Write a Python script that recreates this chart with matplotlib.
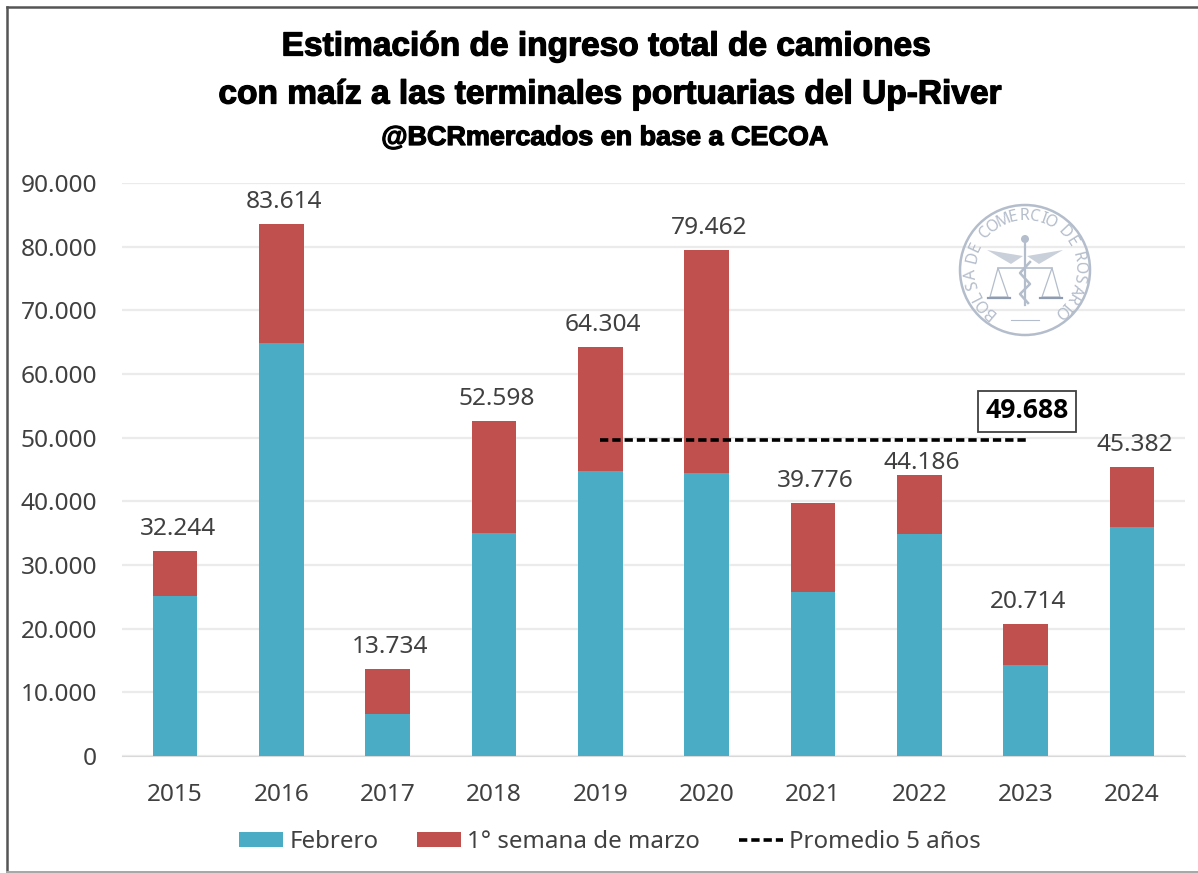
import numpy as np
import matplotlib
matplotlib.use("Agg")
import matplotlib.pyplot as plt
import matplotlib.patheffects as pe
from matplotlib.lines import Line2D
from matplotlib.patches import Circle, Polygon

years = ["2015","2016","2017","2018","2019","2020","2021","2022","2023","2024"]
febrero = [25200,64900,6600,35000,44800,44500,25800,34800,14300,36000]
marzo = [7044,18714,7134,17598,19504,34962,13976,9386,6414,9382]
totales = ["32.244","83.614","13.734","52.598","64.304","79.462","39.776","44.186","20.714","45.382"]
promedio = [49688,49688,49688,49688,49688]
promedio_years = [4,5,6,7,8]
yticks = [0,10000,20000,30000,40000,50000,60000,70000,80000,90000]
ylabels = ["0","10.000","20.000","30.000","40.000","50.000","60.000","70.000","80.000","90.000"]
title1 = "Estimación de ingreso total de camiones"
title2 = "con maíz a las terminales portuarias del Up-River"
title3 = "@BCRmercados en base a CECOA"
seal = "BOLSA DE COMERCIO DE ROSARIO"

W, H = 1198, 873
BLUE, RED, TXT, GRID, SEAL = "#4BACC6", "#C0504D", "#404040", "#EBEBEB", "#B4BDCB"
FS = 17.6
fig = plt.figure(figsize=(W/100, H/100), dpi=100)
fig.patch.set_facecolor("white")
tr = fig.transFigure
fig.add_artist(Line2D([7/W, 7/W], [1-872/H, 1-7/H], transform=tr, color="#555555", lw=1.8))
fig.add_artist(Line2D([7/W, 1], [1-7/H, 1-7/H], transform=tr, color="#555555", lw=1.8))
fig.add_artist(Line2D([7/W, 1], [1-871.5/H, 1-871.5/H], transform=tr, color="#A6A6A6", lw=1.4))

L, R, T, B = 122, 1185, 183, 756
ax = fig.add_axes([L/W, 1-B/H, (R-L)/W, (B-T)/H])
ax.set_xlim(-0.5, 9.5)
ax.set_ylim(0, 90000)
x = np.arange(len(years))
b1 = ax.bar(x, febrero, width=0.42, color=BLUE, label="Febrero", zorder=3)
b2 = ax.bar(x, marzo, width=0.42, bottom=febrero, color=RED, label="1° semana de marzo", zorder=3)
ln, = ax.plot(promedio_years, promedio, color="black", ls=(0,(2.3,1.1)), lw=2.6, label="Promedio 5 años", zorder=4)
tot = np.array(febrero)+np.array(marzo)
for xi, t, s in zip(x, tot, totales):
    off = 0 if s == "44.186" else 7
    ax.annotate(s, (xi, t), xytext=(2, off), textcoords="offset points", ha="center", va="bottom",
                fontsize=FS, color=TXT, family="Noto Sans")
ax.text(8.015, 54150, "49.688", ha="center", va="center", fontsize=19.2, fontweight="bold", color="black",
        family="Open Sans", zorder=5,
        bbox=dict(boxstyle="square,pad=0.28", fc="white", ec="#404040", lw=1.3))
for s in ax.spines.values():
    s.set_visible(False)
ax.spines["bottom"].set_visible(True)
ax.spines["bottom"].set_color("#D9D9D9")
ax.set_yticks(yticks, ylabels, fontsize=FS, color=TXT, family="Noto Sans")
ax.set_xticks(x, years, fontsize=FS, color=TXT, family="Noto Sans")
ax.tick_params(length=0)
ax.tick_params(axis="y", pad=18)
ax.tick_params(axis="x", pad=19.5)
ax.grid(axis="y", color=GRID, lw=1.6, zorder=0)
ax.set_axisbelow(True)

fig.legend([b1, b2, ln], ["Febrero", "1° semana de marzo", "Promedio 5 años"], loc="center",
           bbox_to_anchor=(610/W, 1-842/H), ncol=3, frameon=False,
           prop=dict(family="Noto Sans", size=17.3), labelcolor=TXT, handlelength=1.85,
           handleheight=0.55, columnspacing=1.6, handletextpad=0.25)

tf = ["Liberation Sans"]
st = [pe.withStroke(linewidth=0.9, foreground="black")]
fig.text(606/W, 1-47/H, title1, ha="center", va="center", fontsize=24.1, fontweight="bold", family=tf, color="black", path_effects=st)
fig.text(610/W, 1-95/H, title2, ha="center", va="center", fontsize=24.1, fontweight="bold", family=tf, color="black", path_effects=st)
fig.text(604/W, 1-138/H, title3, ha="center", va="center", fontsize=19.4, fontweight="bold", family=tf, color="black", path_effects=st)

# seal, drawn in pixel coordinates
sx = fig.add_axes([0, 0, 1, 1], facecolor="none")
sx.set_xlim(0, W); sx.set_ylim(H, 0); sx.axis("off")
cx, cy = 1025, 270
sx.add_patch(Circle((cx, cy), 65, fill=False, ec=SEAL, lw=1.8))
wts = np.array([0.6 if c in " I" else 1.0 for c in seal])
pos = np.cumsum(wts) - wts/2
pos = (pos - pos[0])/(pos[-1]-pos[0])
for ch, p in zip(seal, pos):
    a = np.deg2rad(-140 + 280*p)
    sx.text(cx+54*np.sin(a), cy-54*np.cos(a), ch, rotation=-np.rad2deg(a), rotation_mode="anchor",
            ha="center", va="center", fontsize=11.5, color=SEAL, family="Noto Sans")
sx.plot([cx-27, cx+27], [cy-2, cy-2], color=SEAL, lw=1.2)
sx.plot([cx, cx], [cy-30, cy+35], color=SEAL, lw=1.6)
sx.add_patch(Circle((cx, cy-31), 4, fc=SEAL, ec="none"))
for sgn in (-1, 1):
    sx.add_patch(Polygon([(cx+sgn*2, cy-14), (cx+sgn*38, cy-20), (cx+sgn*14, cy-6)], fc=SEAL, ec="none", alpha=.7))
    sx.add_patch(Polygon([(cx+sgn*27, cy-2), (cx+sgn*35, cy+27), (cx+sgn*17, cy+27)], fill=False, ec=SEAL, lw=0.9))
    sx.plot([cx+sgn*15, cx+sgn*37], [cy+28, cy+28], color="#8F9BB0", lw=1.6)
sx.plot([cx+5, cx-5, cx+5, cx-5, cx+3], [cy-8, cy+3, cy+14, cy+24, cy+33], color=SEAL, lw=1.8)
sx.plot([cx-14, cx+14], [cy+50, cy+50], color=SEAL, lw=0.8)

fig.savefig("out.png", dpi=100)
